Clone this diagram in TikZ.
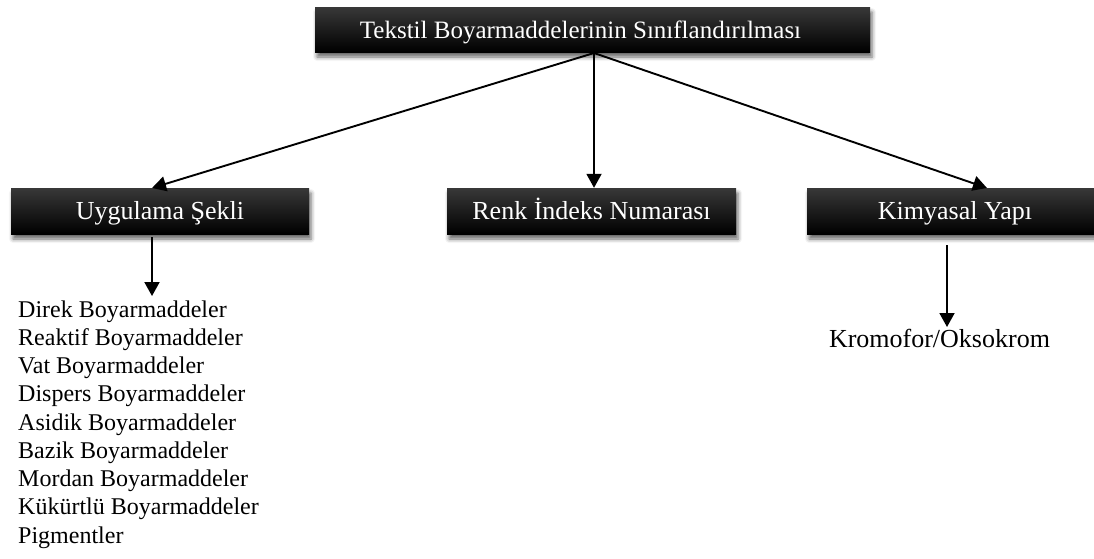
\documentclass[tikz,border=0pt]{standalone}
\usepackage{fontspec}
\setmainfont{Liberation Serif}
\usetikzlibrary{arrows.meta,shadows.blur}
\tikzset{
  catbox/.style={draw=none, top color=black!78, middle color=black, bottom color=black,
    text=white, inner sep=0pt, text height=17pt, text depth=0pt,
    font=\fontsize{26}{30}\selectfont,
    blur shadow={shadow xshift=2pt, shadow yshift=-5pt, shadow blur radius=4pt, shadow opacity=60}},
  link/.style={line width=1.9pt, -{Triangle[width=15pt,length=14pt]}},
  listtext/.style={inner sep=0pt, anchor=base west, font=\fontsize{24}{28}\selectfont},
  leaftext/.style={inner sep=0pt, anchor=base, font=\fontsize{26}{30}\selectfont}
}
\begin{document}
\begin{tikzpicture}[x=1pt,y=-1pt]
\useasboundingbox (0,0) rectangle (1094,558);
\node[catbox, minimum width=555pt, minimum height=45pt, font=\fontsize{25}{30}\selectfont] (top) at (592.5,29.5) {\hspace*{-24pt}Tekstil Boyarmaddelerinin Sınıflandırılması};
\node[catbox, minimum width=298pt, minimum height=46pt] (uyg) at (160,211) {Uygulama Şekli};
\node[catbox, minimum width=289pt, minimum height=46pt] (renk) at (591.5,211) {Renk İndeks Numarası};
\node[catbox, minimum width=296pt, minimum height=46pt] (kim) at (955,211) {Kimyasal Yapı};

\coordinate (src) at (594,53);
\coordinate (uygin) at (152,188);
\coordinate (kimin) at (987,188);
\draw[link] (src) -- (uygin);
\draw[link] (src) -- (src |- renk.north);
\draw[link] (src) -- (kimin);

\coordinate (uygout) at (152,237);
\coordinate (listtop) at (152,296);
\draw[link] (uygout) -- (listtop);

\coordinate (kimout) at (947,245);
\coordinate (kromtop) at (947,327);
\draw[link] (kimout) -- (kromtop);

\foreach \t [count=\i] in {Direk Boyarmaddeler, Reaktif Boyarmaddeler, Vat Boyarmaddeler, Dispers Boyarmaddeler, Asidik Boyarmaddeler, Bazik Boyarmaddeler, Mordan Boyarmaddeler, Kükürtlü Boyarmaddeler, Pigmentler}
  \node[listtext] (item\i) at (18,{317+28.25*(\i-1)}) {\t};

\node[leaftext] (krom) at (939.5,347) {Kromofor/Oksokrom};
\end{tikzpicture}
\end{document}
